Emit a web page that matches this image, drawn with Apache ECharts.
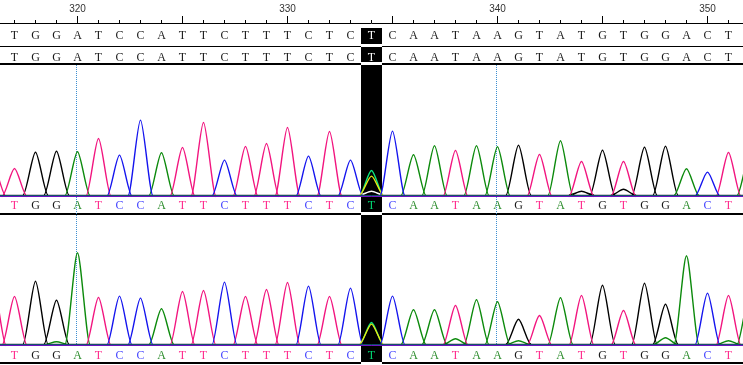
<!DOCTYPE html>
<html><head><meta charset="utf-8">
<script src="https://cdn.jsdelivr.net/npm/echarts@6/dist/echarts.min.js"></script>
<style>html,body{margin:0;padding:0;background:#fff}#c{width:743px;height:365px}</style>
</head><body><div id="c"></div>
<script>
// ---------- data ----------
const positions = [316,317,318,319,320,321,322,323,324,325,326,327,328,329,330,331,332,333,334,335,336,337,338,339,340,341,342,343,344,345,346,347,348,349,350,351,352];
const seqPositions = [317,318,319,320,321,322,323,324,325,326,327,328,329,330,331,332,333,334,335,336,337,338,339,340,341,342,343,344,345,346,347,348,349,350,351];
const refRow   = ['T','G','G','A','T','C','C','A','T','T','C','T','T','T','C','T','C','T','C','A','A','T','A','A','G','T','A','T','G','T','G','G','A','C','T'];
const queryRow = ['T','G','G','A','T','C','C','A','T','T','C','T','T','T','C','T','C','T','C','A','A','T','A','A','G','T','A','T','G','T','G','G','A','C','T'];
const calls1   = ['T','G','G','A','T','C','C','A','T','T','C','T','T','T','C','T','C','T','C','A','A','T','A','A','G','T','A','T','G','T','G','G','A','C','T'];
const calls2   = ['T','G','G','A','T','C','C','A','T','T','C','T','T','T','C','T','C','T','C','A','A','T','A','A','G','T','A','T','G','T','G','G','A','C','T'];
const rulerLabels = [320,330,340,350];
const majorTicks = [320,325,330,335,340,345,350];
const guidePositions = [320,340];
const highlightPos = 334;

// peak heights per position (panel 1 = upper trace, panel 2 = lower trace)
const p1A = [0,0,0,0,44,0,0,0,43,0,0,0,0,0,0,0,0,0,0,0,41,50,0,50,49,0,0,55,0,0,0,0,0,27,0,0,40];
const p1C = [0,0,0,0,0,0,41,76,0,0,0,36,0,0,0,40,0,36,20,65,0,0,0,0,0,0,0,0,0,0,0,0,0,0,24,0,0];
const p1G = [0,0,43,44,0,0,0,0,0,0,0,0,0,0,0,0,0,0,4,0,0,0,0,0,0,50,0,0,4,45,6,48,49,0,0,0,0];
const p1T = [30,28,0,0,0,58,0,0,0,49,74,0,50,53,69,0,65,0,26,0,0,0,46,0,0,0,42,0,35,0,35,0,0,0,0,44,0];

const p2A = [0,0,0,3,92,0,0,0,36,0,0,0,0,0,0,0,0,0,0,0,35,35,6,45,43,4,0,47,0,0,0,0,7,89,0,4,50];
const p2C = [0,0,0,0,0,0,49,47,0,0,0,63,0,0,0,59,0,57,21,49,0,0,0,0,0,0,0,0,0,0,0,0,0,0,52,0,0];
const p2G = [0,0,63,44,0,0,0,0,0,0,0,0,0,0,0,0,0,0,0,0,0,0,0,0,0,25,0,0,0,59,0,61,40,0,0,0,0];
const p2T = [60,49,0,0,0,48,0,0,0,54,55,0,49,56,63,0,49,0,23,0,0,0,40,0,0,0,30,0,50,0,35,0,0,0,0,50,0];

// ---------- styling ----------
const XMIN = 316.31, XMAX = XMIN + 743 / 21;
const traceColor = {A:'#0c8a0c', C:'#1414ee', G:'#000000', T:'#f2157f'};
const letterColor = {A:'#2b8c2b', C:'#4444ff', G:'#1a1a1a', T:'#ff2a8c'};
const baseOffset = {A:1.3, C:0.9, G:1.7, T:0.5};
const letterFont = '12px "Liberation Serif"';
function invert(hex){ return '#' + (0xffffff ^ parseInt(hex.slice(1),16)).toString(16).padStart(6,'0'); }

const grids = [
  {top:0,   height:23},     // 0 ruler
  {top:23,  height:23},     // 1 row 1
  {top:46,  height:17.5},   // 2 row 2
  {top:64.5,height:132.5},  // 3 trace 1
  {top:197, height:16.5},   // 4 calls 1
  {top:214.5,height:131.5}, // 5 trace 2
  {top:346, height:17},     // 6 calls 2
  {top:0,   height:365}     // 7 overlay (pixel rows)
].map(g => Object.assign({left:0, right:0, containLabel:false, outerBoundsMode:'none'}, g));

function xAx(grid, extra){
  return Object.assign({gridIndex:grid, type:'value', min:XMIN, max:XMAX, position:'bottom',
    axisLine:{show:false}, axisTick:{show:false}, axisLabel:{show:false}, splitLine:{show:false}}, extra||{});
}
const line = w => ({show:true, onZero:false, lineStyle:{color:'#000', width:w}});
const xAxes = [
  xAx(0, {axisLine:line(1), axisTick:{show:true, inside:true, length:3, customValues:seqPositions, lineStyle:{color:'#000', width:1}}}),
  xAx(0, {axisTick:{show:true, inside:true, length:7, customValues:majorTicks, lineStyle:{color:'#000', width:1}},
          axisLabel:{show:true, inside:true, margin:9, customValues:rulerLabels, formatter:v=>String(v),
                     color:'#333', fontFamily:'Liberation Sans', fontSize:10}}),
  xAx(1, {axisLine:line(1)}),
  xAx(2, {axisLine:line(2)}),
  xAx(3),
  xAx(4, {axisLine:line(2)}),
  xAx(5),
  xAx(6, {axisLine:line(2)}),
  xAx(7)
];
function yAx(grid, min, max, inverse){
  return {gridIndex:grid, type:'value', min:min, max:max, inverse:!!inverse, show:false, splitLine:{show:false}};
}
const yAxes = [yAx(0,0,1), yAx(1,0,1), yAx(2,0,1), yAx(3,0,132.5), yAx(4,0,1), yAx(5,0,131.5), yAx(6,0,1), yAx(7,0,365,true)];

const series = [];

// highlight column
series.push({
  type:'custom', xAxisIndex:8, yAxisIndex:7, z:1, silent:true, animation:false,
  data:[[highlightPos, 0]],
  renderItem:(params, api)=>{
    const x = api.value(0);
    const x0 = Math.round(api.coord([x-0.5,0])[0]), x1 = Math.round(api.coord([x+0.5,0])[0]);
    const blacks = [[28,44],[47,62],[65,212],[215,362]];
    const whites = [[44,47],[62,65],[212,215],[362,365]];
    const kids = [];
    blacks.forEach(s=>kids.push({type:'rect', shape:{x:x0, y:s[0], width:x1-x0, height:s[1]-s[0]}, style:{fill:'#000'}}));
    whites.forEach(s=>kids.push({type:'rect', shape:{x:x0, y:s[0], width:x1-x0, height:s[1]-s[0]}, style:{fill:'#fff'}}));
    return {type:'group', children:kids};
  }
});

// dotted guide lines
series.push({
  type:'custom', xAxisIndex:8, yAxisIndex:7, z:1, silent:true, animation:false,
  data:guidePositions.map(v=>[v,0]),
  renderItem:(params, api)=>{
    const px = Math.round(api.coord([api.value(0),0])[0]) - 0.5;
    return {type:'line', shape:{x1:px, y1:65, x2:px, y2:346}, style:{stroke:'#3d8fd1', lineWidth:1, lineDash:[1,1]}};
  }
});

// traces
function peakSeries(xi, yi, heights, ch){
  const col = traceColor[ch], b = baseOffset[ch];
  series.push({type:'line', xAxisIndex:xi, yAxisIndex:yi, z:3, silent:true, animation:false, symbol:'none',
    data:[[XMIN,b],[XMAX,b]], lineStyle:{color:col, width:1}});
  series.push({
    type:'custom', xAxisIndex:xi, yAxisIndex:yi, z:3, silent:true, animation:false,
    data:positions.map((p,i)=>[p, heights[i]]),
    renderItem:(params, api)=>{
      const x = api.value(0), h = api.value(1);
      if (!h) return null;
      const w = 0.6;
      const P = (dx, y) => api.coord([x+dx, y]).map(v=>v.toFixed(2)).join(',');
      const d = 'M'+P(-w,b)+' C'+P(-0.72*w,b)+' '+P(-0.26*w,b+h)+' '+P(0,b+h)+
                ' C'+P(0.26*w,b+h)+' '+P(0.72*w,b)+' '+P(w,b);
      return {type:'path', shape:{pathData:d}, style:{stroke: x===highlightPos ? invert(col) : col, fill:'none', lineWidth:1.4}};
    }
  });
}
[[4,3,{G:p1G,A:p1A,T:p1T,C:p1C}],[6,5,{G:p2G,A:p2A,T:p2T,C:p2C}]].forEach(([xi,yi,set])=>{
  ['G','A','T','C'].forEach(ch=>peakSeries(xi, yi, set[ch], ch));
});

// letter rows
function letterRow(letters, ypx, colored){
  series.push({
    type:'custom', xAxisIndex:8, yAxisIndex:7, z:4, silent:true, animation:false,
    data:seqPositions.map((p,i)=>[p, i]),
    renderItem:(params, api)=>{
      const x = api.value(0), L = letters[api.value(1)];
      const pt = api.coord([x, ypx]);
      let fill = colored ? letterColor[L] : '#1a1a1a';
      if (x === highlightPos) fill = colored ? invert(fill) : '#ffffff';
      return {type:'text', x:pt[0], y:pt[1], style:{text:L, fill:fill, font:letterFont, align:'center', verticalAlign:'middle'}};
    }
  });
}
letterRow(refRow, 36, false);
letterRow(queryRow, 57.5, false);
letterRow(calls1, 205.5, true);
letterRow(calls2, 355.5, true);

const chart = echarts.init(document.getElementById('c'), null, {renderer:'canvas'});
chart.setOption({animation:false, backgroundColor:'#fff', grid:grids, xAxis:xAxes, yAxis:yAxes, series:series});
</script></body></html>
